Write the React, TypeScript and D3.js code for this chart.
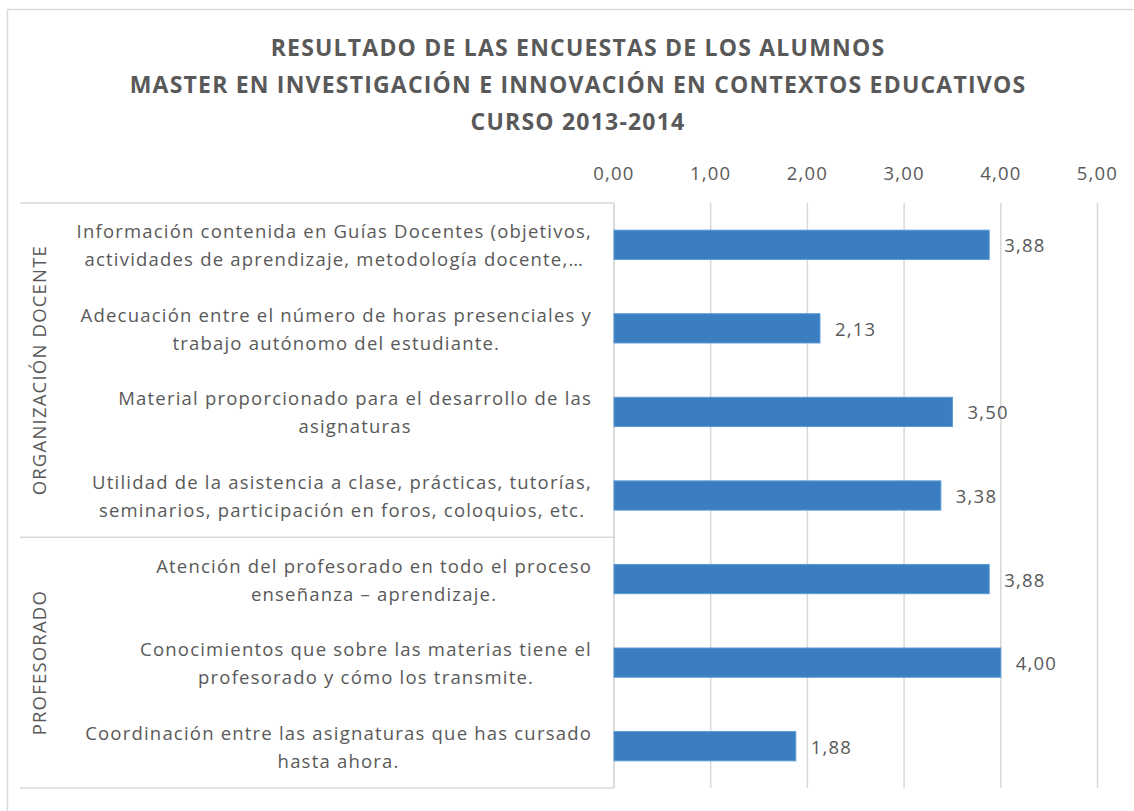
import React from "react";
import * as d3 from "d3";

const categories: string[][] = [
  ["Información contenida en Guías Docentes (objetivos,", "actividades de aprendizaje, metodología docente,…"],
  ["Adecuación entre el número de horas presenciales y", "trabajo autónomo del estudiante."],
  ["Material proporcionado para el desarrollo de las", "asignaturas"],
  ["Utilidad de la asistencia a clase, prácticas, tutorías,", "seminarios, participación en foros, coloquios, etc."],
  ["Atención del profesorado en todo el proceso", "enseñanza – aprendizaje."],
  ["Conocimientos que sobre las materias tiene el", "profesorado y cómo los transmite."],
  ["Coordinación entre las asignaturas que has cursado", "hasta ahora."],
];
const values: number[] = [3.88, 2.13, 3.5, 3.38, 3.88, 4.0, 1.88];
const groups: string[] = ["ORGANIZACIÓN DOCENTE", "PROFESORADO"];
const groupSizes: number[] = [4, 3];
const ticks: number[] = [0, 1, 2, 3, 4, 5];
const titleLines: string[] = [
  "RESULTADO DE LAS ENCUESTAS DE LOS ALUMNOS",
  "MASTER EN INVESTIGACIÓN E INNOVACIÓN EN CONTEXTOS EDUCATIVOS",
  "CURSO 2013-2014",
];

const W = 1134;
const H = 811;
const FONT = "'Open Sans', sans-serif";
const GRAY = "#595959";
const GRID = "#d9d9d9";
const LABEL_SIZE = 18.5;
const LS = 1.2;

const fmt = (v: number) => v.toFixed(2).replace(".", ",");

function measure(text: string, size: number, weight = "normal"): number {
  const c = document.createElement("canvas");
  const ctx = c.getContext("2d")!;
  ctx.font = `${weight} ${size}px 'Open Sans'`;
  return ctx.measureText(text).width + text.length * LS;
}

export default function App() {
  const plotLeft = 614;
  const plotRight = 1097.5;
  const top = 203;
  const bottom = 788;
  const tableLeft = 20;
  const labelRight = 592;

  const x = d3.scaleLinear().domain([0, 5]).range([plotLeft, plotRight]);
  const idx = categories.map((_, i) => i);
  const y = d3.scaleBand<number>().domain(idx).range([top, bottom]).paddingInner(0.65).paddingOuter(0.325);
  const band = d3.scaleBand<number>().domain(idx).range([top, bottom]);

  let acc = 0;
  const groupRanges = groupSizes.map((n) => {
    const r = [acc, acc + n];
    acc += n;
    return r;
  });

  return (
    <svg width={W} height={H} style={{ position: "absolute", left: 0, top: 0, background: "#fff" }} fontFamily={FONT}>
      <rect x={7.5} y={9.5} width={W} height={H} fill="#fff" stroke={GRID} strokeWidth={1.5} />
      {titleLines.map((t, i) => (
        <text key={i} x={578} y={47 + i * 37} textAnchor="middle" dominantBaseline="central" fontSize={23} letterSpacing={1.2} fontWeight="bold" fill={GRAY}>
          {t}
        </text>
      ))}
      {ticks.map((t) => (
        <g key={t}>
          <line x1={x(t)} x2={x(t)} y1={top} y2={bottom} stroke={GRID} strokeWidth={1.5} />
          <text x={x(t)} y={172} textAnchor="middle" dominantBaseline="central" fontSize={LABEL_SIZE} letterSpacing={LS} fill={GRAY}>
            {fmt(t)}
          </text>
        </g>
      ))}
      <line x1={tableLeft} x2={plotLeft} y1={top} y2={top} stroke={GRID} strokeWidth={1.5} />
      {groupRanges.map((r, i) => (
        <line key={i} x1={tableLeft} x2={plotLeft} y1={band(r[1] - 1)! + band.bandwidth()} y2={band(r[1] - 1)! + band.bandwidth()} stroke={GRID} strokeWidth={1.5} />
      ))}
      <line x1={plotLeft} x2={plotLeft} y1={top} y2={bottom} stroke={GRID} strokeWidth={1.5} />
      {groups.map((g, i) => {
        const r = groupRanges[i];
        const cy = (band(r[0])! + band(r[1] - 1)! + band.bandwidth()) / 2;
        return (
          <text key={g} transform={`translate(38,${cy}) rotate(-90)`} textAnchor="middle" dominantBaseline="central" fontSize={LABEL_SIZE} letterSpacing={LS} fill={GRAY}>
            {g}
          </text>
        );
      })}
      {categories.map((lines, i) => {
        const cy = band(i)! + band.bandwidth() / 2;
        const maxW = Math.max(...lines.map((l) => measure(l, LABEL_SIZE)));
        const cx = labelRight - maxW / 2;
        return (
          <g key={i}>
            {lines.map((l, j) => (
              <text key={j} x={cx} y={cy + (j - (lines.length - 1) / 2) * 28} textAnchor="middle" dominantBaseline="central" fontSize={LABEL_SIZE} letterSpacing={LS} fill={GRAY}>
                {l}
              </text>
            ))}
          </g>
        );
      })}
      {values.map((v, i) => (
        <g key={i}>
          <rect x={x(0)} y={y(i)} width={x(v) - x(0)} height={y.bandwidth()} fill="#3a7dc1" stroke="#5b9bd5" strokeWidth={1} />
          <text x={x(v) + 15} y={y(i)! + y.bandwidth() / 2} dominantBaseline="central" fontSize={LABEL_SIZE} letterSpacing={LS} fill={GRAY}>
            {fmt(v)}
          </text>
        </g>
      ))}
    </svg>
  );
}
